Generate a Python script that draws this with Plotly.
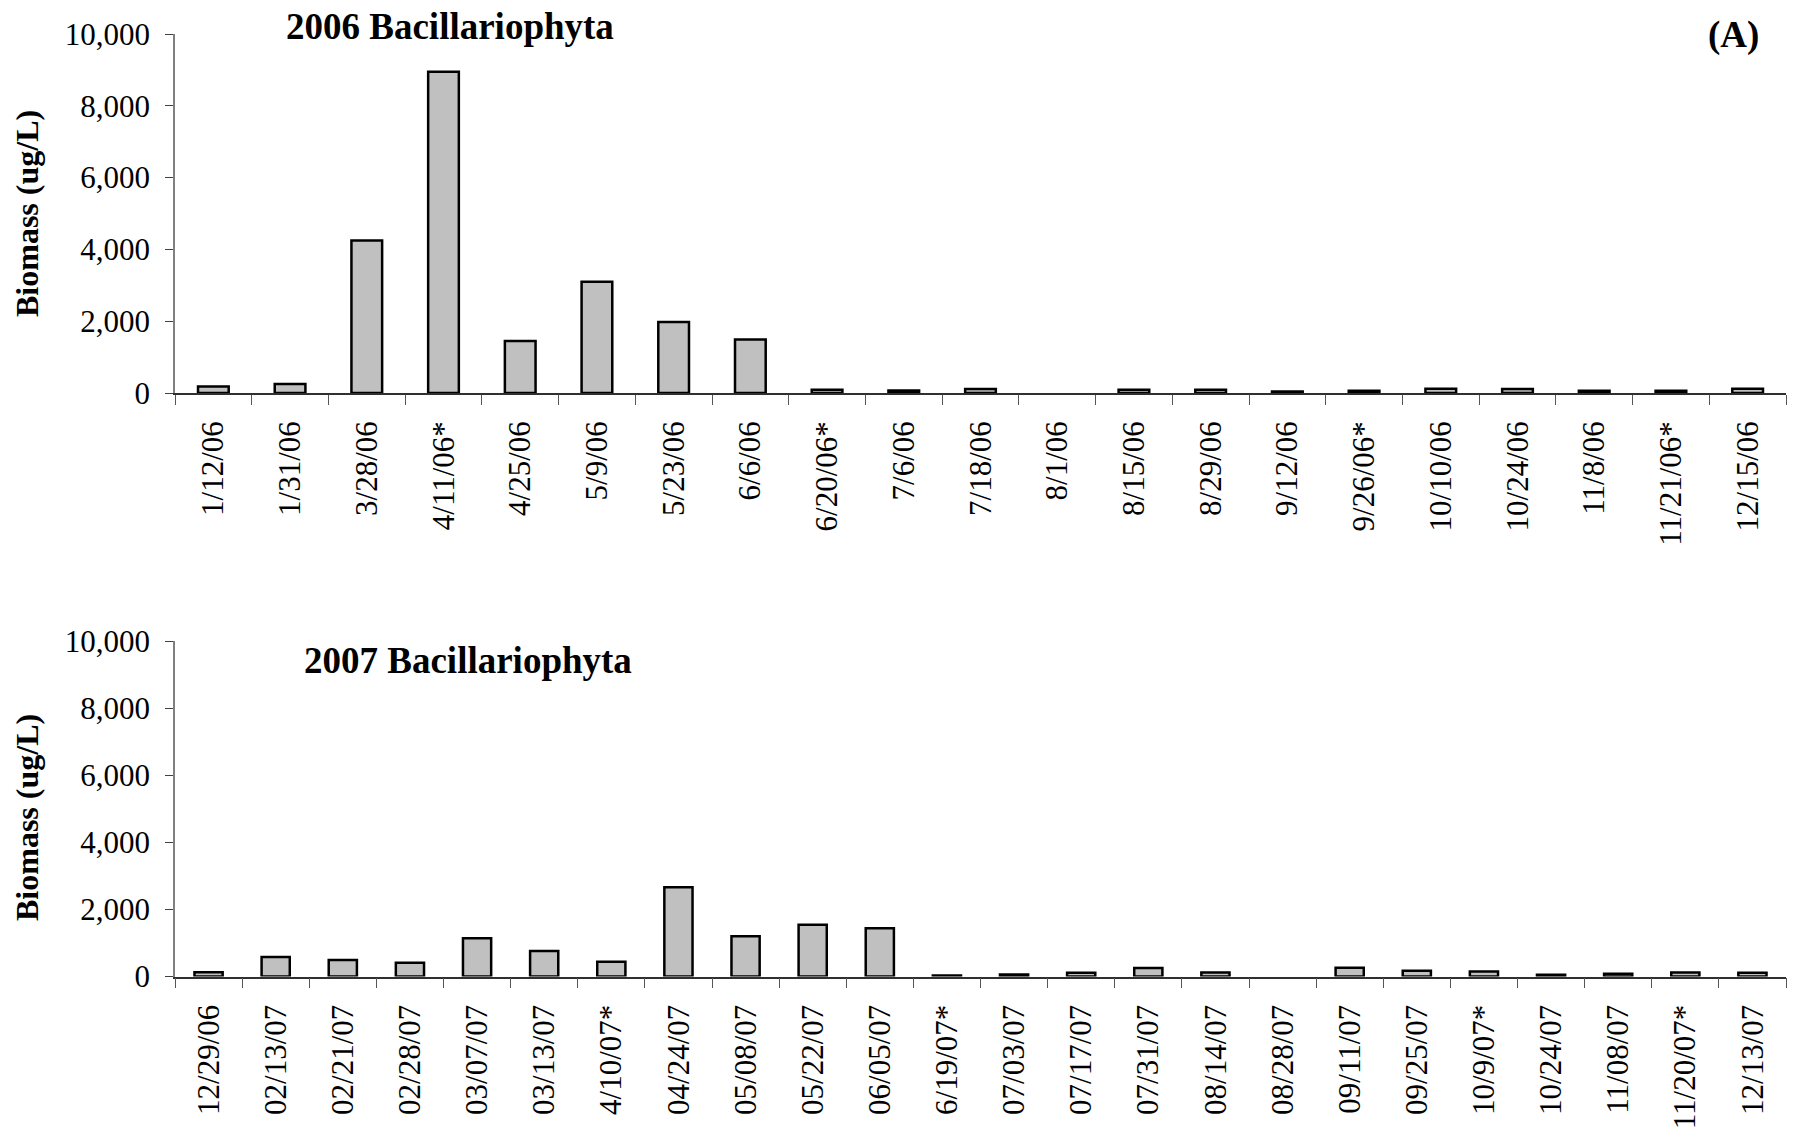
import plotly.graph_objects as go

# Sampling dates and diatom biomass (ug/L)
dates_2006 = ["1/12/06", "1/31/06", "3/28/06", "4/11/06*", "4/25/06", "5/9/06", "5/23/06",
              "6/6/06", "6/20/06*", "7/6/06", "7/18/06", "8/1/06", "8/15/06", "8/29/06",
              "9/12/06", "9/26/06*", "10/10/06", "10/24/06", "11/8/06", "11/21/06*", "12/15/06"]
biomass_2006 = [180, 250, 4250, 8950, 1450, 3100, 1980, 1490, 90, 70, 110, 0, 90, 90,
                40, 60, 120, 110, 60, 60, 120]

dates_2007 = ["12/29/06", "02/13/07", "02/21/07", "02/28/07", "03/07/07", "03/13/07",
              "4/10/07*", "04/24/07", "05/08/07", "05/22/07", "06/05/07", "6/19/07*",
              "07/03/07", "07/17/07", "07/31/07", "08/14/07", "08/28/07", "09/11/07",
              "09/25/07", "10/9/07*", "10/24/07", "11/08/07", "11/20/07*", "12/13/07"]
biomass_2007 = [130, 580, 490, 410, 1140, 760, 440, 2660, 1200, 1540, 1440, 30,
                60, 110, 250, 120, 0, 260, 170, 150, 50, 80, 120, 110]

y_ticks = [0, 2000, 4000, 6000, 8000, 10000]

W, H = 1795, 1130
FONT = "Liberation Serif"
AXIS_GREY = "#808080"


def px_x(x):
    return x / W


def px_y(y):
    return 1 - y / H


def outline_widths(values):
    # no outline for empty samples, so nothing is drawn on the baseline
    return [2.5 if v > 0 else 0 for v in values]


fig = go.Figure()
fig.add_trace(go.Bar(x=dates_2006, y=biomass_2006, xaxis="x", yaxis="y", width=0.4,
                     marker=dict(color="#C0C0C0",
                                 line=dict(color="black", width=outline_widths(biomass_2006))),
                     showlegend=False))
fig.add_trace(go.Bar(x=dates_2007, y=biomass_2007, xaxis="x2", yaxis="y2", width=0.42,
                     marker=dict(color="#C0C0C0",
                                 line=dict(color="black", width=outline_widths(biomass_2007))),
                     showlegend=False))

x_common = dict(type="category", tickson="boundaries", ticks="outside", ticklen=10,
                tickcolor="#555555", tickwidth=1, showline=True, linecolor="#303030",
                linewidth=1.5, tickangle=-90, showgrid=False, zeroline=False,
                automargin=False, ticklabelstandoff=14,
                tickfont=dict(family=FONT, size=31, color="black"),
                domain=[px_x(175), px_x(1786)])
y_common = dict(range=[0, 10000], tickvals=y_ticks, tickformat=",d", ticks="outside",
                ticklen=8, tickcolor="#404040", showline=True, linecolor=AXIS_GREY,
                linewidth=1.5, showgrid=False, zeroline=False, automargin=False,
                ticklabelstandoff=9,
                tickfont=dict(family=FONT, size=31, color="black"))

fig.update_layout(
    template="none",
    width=W, height=H,
    margin=dict(l=0, r=0, t=0, b=0, pad=0),
    paper_bgcolor="white", plot_bgcolor="white",
    xaxis=dict(x_common, anchor="y", range=[-0.5, len(dates_2006) - 0.5]),
    yaxis=dict(y_common, anchor="x", domain=[px_y(393), px_y(34)]),
    xaxis2=dict(x_common, anchor="y2", range=[-0.5, len(dates_2007) - 0.5]),
    yaxis2=dict(y_common, anchor="x2", domain=[px_y(976.5), px_y(641)]),
    bargap=0.6,
)

annots = [
    dict(text="<b>2006 Bacillariophyta</b>", x=px_x(450), y=px_y(26), size=37),
    dict(text="<b>2007 Bacillariophyta</b>", x=px_x(468), y=px_y(660), size=37),
    dict(text="<b>(A)</b>", x=px_x(1733), y=px_y(35), size=37),
]
for a in annots:
    fig.add_annotation(text=a["text"], x=a["x"], y=a["y"], xref="paper", yref="paper",
                       xanchor="center", yanchor="middle", showarrow=False,
                       font=dict(family=FONT, size=a["size"], color="black"))

for yc in (214, 818):
    fig.add_annotation(text="<b>Biomass (ug/L)</b>", x=px_x(27), y=px_y(yc),
                       xref="paper", yref="paper", xanchor="center", yanchor="middle",
                       textangle=-90, showarrow=False,
                       font=dict(family=FONT, size=32, color="black"))

fig.write_html("out.html")
